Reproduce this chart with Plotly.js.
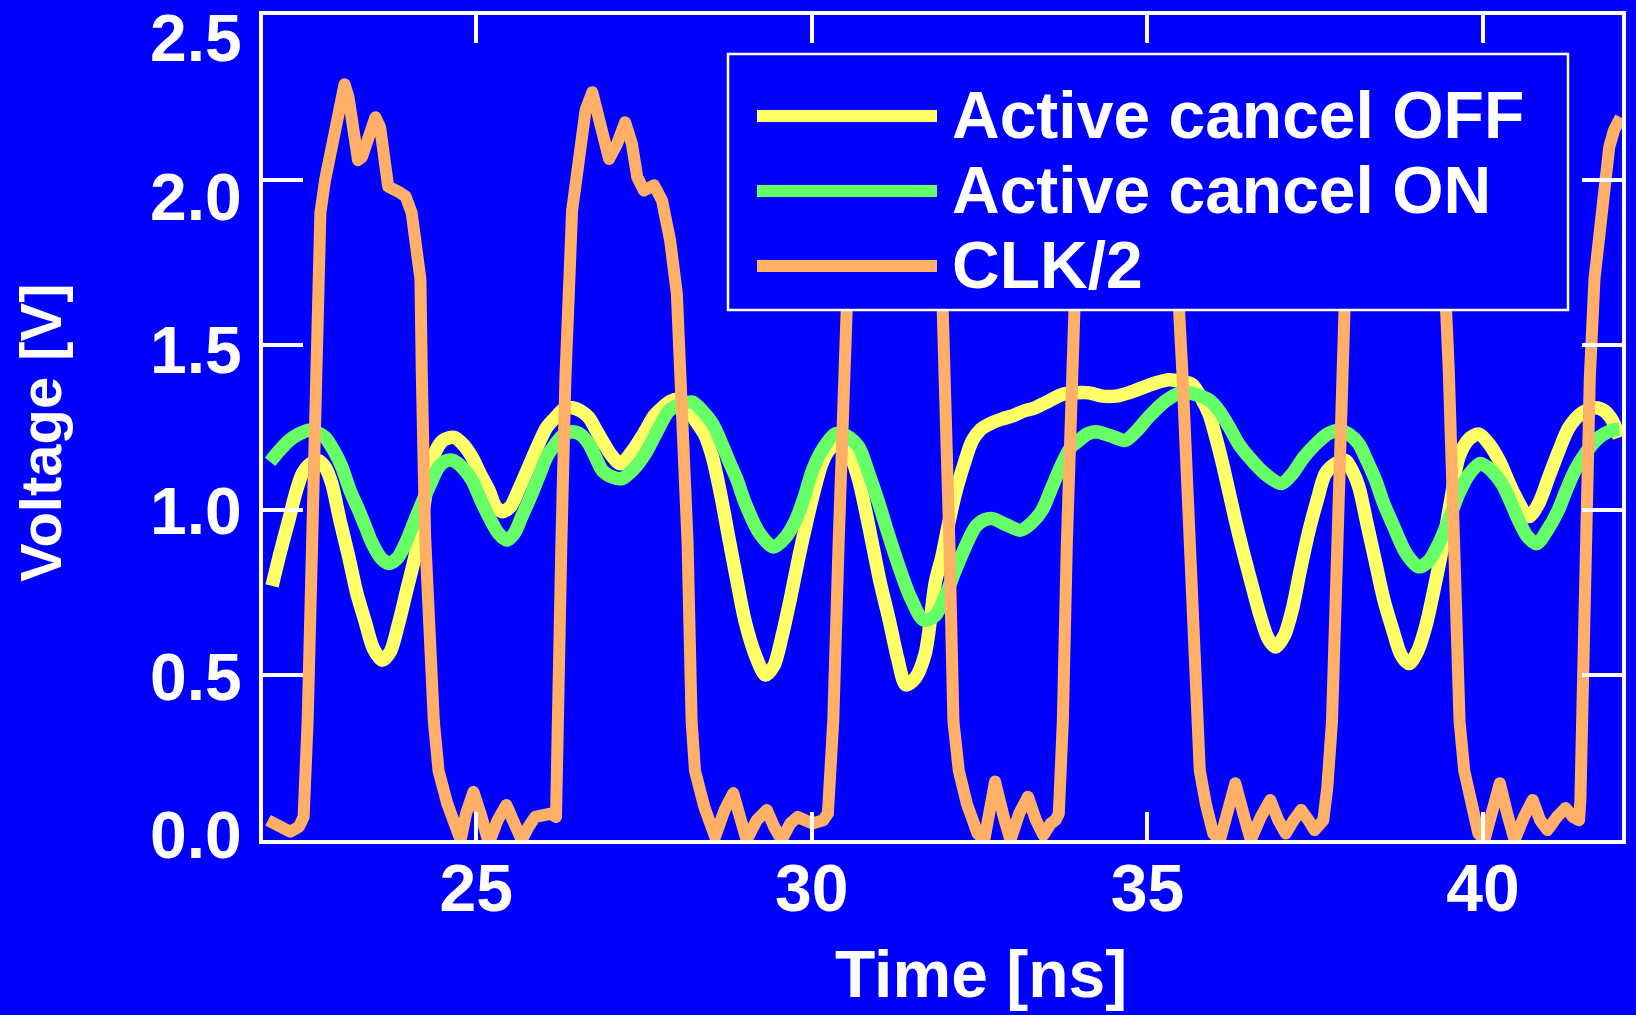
<!DOCTYPE html>
<html>
<head>
<meta charset="utf-8">
<script src="https://cdn.plot.ly/plotly-3.0.1.min.js"></script>
<style>
html,body{margin:0;padding:0;background:#0000ff;overflow:hidden;}
#chart{width:1636px;height:1015px;}
path.js-line{stroke-linejoin:round !important;}
</style>
</head>
<body>
<div id="chart"></div>
<script>
// ---------- data ----------
const seriesNames = ['Active cancel OFF', 'Active cancel ON', 'CLK/2'];
const seriesColors = ['#ffff66', '#66ff66', '#ffb066'];

const offTime = [21.96,22.08,22.21,22.31,22.41,22.53,22.65,22.75,22.85,22.97,23.10,23.22,23.35,23.47,23.60,23.72,23.85,23.97,24.09,24.22,24.34,24.50,24.67,24.80,24.94,25.06,25.19,25.29,25.39,25.51,25.63,25.78,25.93,26.05,26.18,26.30,26.43,26.56,26.68,26.78,26.88,27.00,27.15,27.33,27.52,27.65,27.77,27.90,28.02,28.15,28.27,28.40,28.52,28.64,28.76,28.89,29.01,29.16,29.31,29.44,29.56,29.68,29.81,29.93,30.05,30.15,30.25,30.35,30.45,30.57,30.70,30.80,30.90,31.02,31.15,31.28,31.40,31.54,31.69,31.84,31.94,32.04,32.14,32.27,32.39,32.52,32.64,32.82,32.99,33.16,33.33,33.53,33.73,33.93,34.13,34.33,34.53,34.72,34.92,35.12,35.32,35.50,35.67,35.80,35.92,36.02,36.12,36.21,36.31,36.43,36.56,36.68,36.80,36.91,37.04,37.16,37.28,37.41,37.53,37.65,37.80,37.95,38.05,38.15,38.27,38.40,38.52,38.65,38.78,38.90,39.02,39.15,39.27,39.39,39.52,39.64,39.79,39.94,40.09,40.24,40.46,40.68,40.83,40.98,41.13,41.28,41.48,41.68,41.81,41.93,42.03];
const offVolt = [0.77,0.87,0.97,1.05,1.11,1.14,1.15,1.13,1.08,0.97,0.86,0.75,0.66,0.58,0.545,0.57,0.66,0.76,0.86,1.01,1.15,1.21,1.22,1.20,1.16,1.11,1.06,1.01,0.995,1.01,1.06,1.13,1.20,1.25,1.28,1.305,1.31,1.30,1.28,1.245,1.21,1.17,1.14,1.18,1.24,1.285,1.31,1.33,1.335,1.31,1.27,1.23,1.16,1.05,0.92,0.78,0.66,0.56,0.50,0.53,0.62,0.73,0.86,0.97,1.07,1.14,1.18,1.20,1.21,1.17,1.09,1.00,0.90,0.78,0.67,0.55,0.47,0.49,0.565,0.78,0.86,0.96,1.05,1.14,1.21,1.245,1.26,1.275,1.285,1.30,1.31,1.33,1.35,1.355,1.355,1.345,1.345,1.355,1.37,1.385,1.395,1.39,1.38,1.34,1.29,1.22,1.14,1.06,0.97,0.87,0.77,0.68,0.61,0.585,0.62,0.70,0.82,0.94,1.03,1.11,1.14,1.15,1.12,1.07,0.96,0.84,0.73,0.64,0.56,0.535,0.57,0.65,0.76,0.88,1.03,1.16,1.215,1.23,1.20,1.15,1.05,0.98,1.02,1.10,1.18,1.25,1.295,1.31,1.30,1.27,1.22];

const onTime = [21.93,22.07,22.21,22.36,22.51,22.63,22.75,22.88,23.00,23.12,23.25,23.35,23.45,23.58,23.70,23.83,23.95,24.07,24.19,24.32,24.44,24.54,24.64,24.79,24.94,25.07,25.19,25.33,25.46,25.57,25.68,25.81,25.93,26.05,26.18,26.30,26.43,26.56,26.68,26.78,26.88,27.03,27.17,27.35,27.52,27.70,27.87,28.05,28.22,28.37,28.52,28.64,28.76,28.89,29.01,29.22,29.43,29.60,29.76,29.89,30.01,30.18,30.35,30.52,30.70,30.85,31.00,31.12,31.25,31.46,31.67,31.84,31.99,32.14,32.29,32.44,32.57,32.69,32.90,33.11,33.27,33.43,33.58,33.73,33.86,33.98,34.10,34.23,34.45,34.67,34.84,35.02,35.27,35.52,35.72,35.92,36.07,36.22,36.36,36.51,36.75,37.00,37.16,37.33,37.51,37.68,37.86,38.00,38.15,38.27,38.40,38.52,38.65,38.85,39.04,39.19,39.34,39.49,39.64,39.80,39.96,40.12,40.28,40.40,40.53,40.66,40.80,40.96,41.12,41.24,41.37,41.52,41.68,41.80,41.93,42.03];
const onVolt = [1.146,1.18,1.21,1.23,1.242,1.235,1.22,1.18,1.13,1.06,1.00,0.95,0.90,0.855,0.838,0.855,0.90,0.96,1.02,1.08,1.13,1.148,1.151,1.13,1.09,1.03,0.98,0.93,0.909,0.93,0.98,1.04,1.10,1.16,1.20,1.228,1.237,1.228,1.20,1.16,1.12,1.10,1.095,1.125,1.171,1.24,1.30,1.32,1.327,1.30,1.262,1.21,1.151,1.09,1.02,0.93,0.888,0.915,0.969,1.04,1.12,1.19,1.231,1.225,1.191,1.11,1.02,0.94,0.858,0.74,0.666,0.68,0.74,0.818,0.89,0.949,0.970,0.974,0.955,0.939,0.96,0.999,1.07,1.141,1.19,1.211,1.23,1.237,1.225,1.211,1.24,1.282,1.33,1.357,1.35,1.333,1.30,1.251,1.20,1.161,1.11,1.08,1.11,1.16,1.20,1.23,1.242,1.23,1.20,1.15,1.09,1.02,0.959,0.87,0.828,0.845,0.898,0.97,1.05,1.11,1.141,1.12,1.08,1.03,0.969,0.92,0.898,0.94,0.999,1.06,1.12,1.17,1.211,1.23,1.242,1.245];

const clkTime = [21.90,22.05,22.23,22.36,22.43,22.49,22.55,22.60,22.64,22.68,22.75,22.87,22.97,23.04,23.10,23.18,23.24,23.30,23.38,23.50,23.57,23.63,23.69,23.84,23.95,24.04,24.12,24.17,24.19,24.24,24.37,24.44,24.57,24.70,24.77,24.85,24.96,25.08,25.19,25.32,25.45,25.57,25.68,25.78,25.88,26.00,26.11,26.19,26.21,26.27,26.33,26.38,26.43,26.53,26.63,26.73,26.83,26.98,27.10,27.22,27.32,27.40,27.50,27.65,27.77,27.89,27.99,28.04,28.15,28.21,28.26,28.40,28.56,28.70,28.83,28.93,29.03,29.18,29.33,29.44,29.55,29.68,29.79,30.01,30.17,30.24,30.32,30.40,30.47,30.52,30.57,30.67,30.77,30.87,30.97,31.12,31.24,31.36,31.46,31.56,31.71,31.83,31.93,31.99,32.05,32.11,32.19,32.31,32.47,32.57,32.73,32.86,32.96,33.09,33.22,33.34,33.45,33.56,33.63,33.68,33.74,33.80,33.86,33.91,33.96,34.06,34.16,34.26,34.36,34.51,34.63,34.75,34.86,34.98,35.13,35.25,35.38,35.46,35.52,35.62,35.72,35.78,35.87,35.98,36.08,36.20,36.31,36.43,36.54,36.69,36.83,36.95,37.06,37.18,37.29,37.40,37.49,37.62,37.68,37.75,37.82,37.88,37.93,37.98,38.08,38.18,38.28,38.38,38.53,38.65,38.77,38.88,38.98,39.13,39.25,39.36,39.44,39.49,39.57,39.65,39.72,39.81,39.93,40.02,40.14,40.25,40.36,40.47,40.61,40.74,40.85,40.96,41.10,41.23,41.34,41.43,41.45,41.47,41.53,41.59,41.66,41.73,41.80,41.88,41.95,42.05];
const clkVolt = [0.06,0.04,0.025,0.04,0.07,0.36,0.90,1.40,1.75,1.90,2.00,2.14,2.26,2.29,2.25,2.13,2.06,2.07,2.12,2.19,2.16,2.05,1.98,1.965,1.95,1.90,1.80,1.70,1.42,0.92,0.36,0.21,0.11,0.03,0.00,0.08,0.146,0.07,-0.01,0.06,0.106,0.05,0.00,0.04,0.07,0.075,0.08,0.07,0.36,0.90,1.40,1.706,1.908,2.059,2.211,2.266,2.19,2.064,2.11,2.175,2.11,2.009,1.968,1.984,1.938,1.817,1.656,1.40,0.90,0.36,0.21,0.10,0.01,0.09,0.142,0.07,0.00,0.06,0.091,0.04,0.00,0.05,0.07,0.05,0.06,0.08,0.36,0.90,1.40,1.70,1.90,2.06,2.20,2.27,2.19,2.06,2.11,2.17,2.01,1.97,1.98,1.94,1.75,1.42,0.90,0.36,0.21,0.11,0.02,0.00,0.177,0.07,0.00,0.08,0.131,0.06,0.015,0.05,0.06,0.08,0.36,0.90,1.40,1.70,1.90,2.06,2.20,2.27,2.19,2.06,2.11,2.17,2.01,1.97,1.98,1.94,1.80,1.65,1.42,0.90,0.36,0.21,0.11,0.02,0.00,0.09,0.172,0.08,0.00,0.07,0.121,0.06,0.02,0.06,0.091,0.06,0.03,0.06,0.16,0.36,0.90,1.40,1.70,1.90,2.06,2.20,2.27,2.19,2.06,2.11,2.17,2.01,1.97,1.98,1.94,1.80,1.65,1.42,0.90,0.36,0.21,0.11,0.02,0.00,0.09,0.172,0.08,0.00,0.07,0.121,0.06,0.03,0.07,0.097,0.07,0.06,0.12,0.36,0.90,1.40,1.70,1.85,2.01,2.10,2.15,2.19];

const xRange = [21.825, 42.07];
const yRange = [0, 2.5];
const xTickVals = [25, 30, 35, 40];
const xTickText = ['25', '30', '35', '40'];
const yTickVals = [0, 0.5, 1.0, 1.5, 2.0, 2.5];
const yTickText = ['0.0', '0.5', '1.0', '1.5', '2.0', '2.5'];
const xTitle = 'Time [ns]';
const yTitle = 'Voltage [V]';

// ---------- layout geometry (pixels) ----------
const W = 1636, H = 1015, ML = 263, MR = 14, MT = 15, MB = 175;
const PW = W - ML - MR, PH = H - MT - MB;
const fx = p => (p - ML) / PW;          // pixel x -> paper
const fy = p => (H - MB - p) / PH;      // pixel y -> paper
const yLabelShift = [5, -2, -1, -5, -17, -23];

const FONT = 'Liberation Sans, Arial, Helvetica, sans-serif';
const FS = 66;
const WHITE = '#ffffff';
const BLUE = '#0000ff';
const lineWidths = [13.5, 13.5, 12];

const series = [[offTime, offVolt], [onTime, onVolt], [clkTime, clkVolt]];
const traces = series.map((s, i) => ({
  type: 'scatter', mode: 'lines', name: seriesNames[i],
  x: s[0], y: s[1], showlegend: false, hoverinfo: 'skip',
  line: i < 2 ? {color: seriesColors[i], width: lineWidths[i], shape: 'spline', smoothing: 0.8}
              : {color: seriesColors[i], width: lineWidths[i], shape: 'linear'}
}));

const annotations = [];
yTickVals.forEach((v, i) => annotations.push({
  xref: 'paper', yref: 'y', x: 0, y: v, xanchor: 'right', yanchor: 'middle',
  xshift: -19, yshift: yLabelShift[i], showarrow: false, text: yTickText[i],
  font: {family: FONT, size: FS, color: WHITE, weight: 'bold'}
}));
annotations.push({
  xref: 'paper', yref: 'paper', x: fx(981), y: fy(1013), xanchor: 'center', yanchor: 'bottom',
  showarrow: false, text: xTitle, font: {family: FONT, size: FS, color: WHITE, weight: 'bold'}
});
annotations.push({
  xref: 'paper', yref: 'paper', x: fx(41), y: fy(433), xanchor: 'center', yanchor: 'middle',
  textangle: -90, showarrow: false, text: yTitle, font: {family: FONT, size: 58, color: WHITE, weight: 'bold'}
});

// legend (drawn as box + sample lines + labels)
const legRowY = [115, 190, 265];
const shapes = [{
  type: 'rect', xref: 'paper', yref: 'paper', layer: 'above',
  x0: fx(728), x1: fx(1568), y0: fy(310), y1: fy(54),
  fillcolor: BLUE, line: {color: WHITE, width: 2.5}
}];
seriesNames.forEach((n, i) => {
  shapes.push({
    type: 'line', xref: 'paper', yref: 'paper', layer: 'above',
    x0: fx(757), x1: fx(937), y0: fy(legRowY[i] + 1), y1: fy(legRowY[i] + 1),
    line: {color: seriesColors[i], width: 12}
  });
  annotations.push({
    xref: 'paper', yref: 'paper', x: fx(950), y: fy(legRowY[i]), xanchor: 'left', yanchor: 'middle',
    showarrow: false, text: n, font: {family: FONT, size: FS, color: WHITE, weight: 'bold'}
  });
});

const axisCommon = {
  showgrid: false, zeroline: false, showline: true, linecolor: WHITE, linewidth: 4,
  mirror: 'ticks', ticks: 'inside', tickcolor: WHITE, tickwidth: 4, automargin: false,
  tickfont: {family: FONT, size: FS, color: WHITE, weight: 'bold'}
};

const layout = {
  width: W, height: H,
  margin: {l: ML, r: MR, t: MT, b: MB, pad: 0},
  paper_bgcolor: BLUE, plot_bgcolor: BLUE,
  showlegend: false,
  xaxis: Object.assign({}, axisCommon, {
    range: xRange, tickmode: 'array', tickvals: xTickVals, ticktext: xTickText,
    ticklen: 28, ticklabelstandoff: -12
  }),
  yaxis: Object.assign({}, axisCommon, {
    range: yRange, tickmode: 'array', tickvals: yTickVals, ticktext: yTickText,
    ticklen: 40, showticklabels: false
  }),
  shapes: shapes,
  annotations: annotations
};

Plotly.newPlot('chart', traces, layout, {displayModeBar: false, staticPlot: true});
</script>
</body>
</html>
